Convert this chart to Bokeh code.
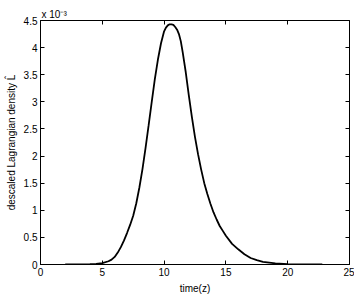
from bokeh.plotting import figure
from bokeh.models import Range1d, FixedTicker, LinearAxis, Title, CustomJSTickFormatter
from bokeh.embed import file_html
from bokeh.resources import INLINE

# time values and descaled Lagrangian density (in units of 1e-3)
time_z = [2.0, 3.0, 4.0, 4.5, 5.0, 5.5, 5.75, 6.0, 6.25, 6.5, 6.75, 7.0, 7.25, 7.5,
          7.75, 8.0, 8.25, 8.5, 8.75, 9.0, 9.25, 9.5, 9.75, 10.0, 10.15, 10.3,
          10.45, 10.6, 10.75, 10.9, 11.05, 11.2, 11.35, 11.5, 11.75, 12.0, 12.25,
          12.5, 12.75, 13.0, 13.25, 13.5, 13.75, 14.0, 14.25, 14.5, 14.75, 15.0,
          15.5, 16.0, 16.5, 17.0, 17.5, 18.0, 19.0, 20.0, 21.0, 22.0, 22.8]
density_e3 = [0.0, 0.0, 0.005, 0.012, 0.025, 0.06, 0.09, 0.14, 0.22, 0.32, 0.44,
              0.58, 0.73, 0.90, 1.13, 1.42, 1.76, 2.15, 2.57, 3.00, 3.42, 3.78,
              4.08, 4.30, 4.37, 4.41, 4.43, 4.43, 4.42, 4.38, 4.33, 4.25, 4.12,
              3.92, 3.55, 3.12, 2.72, 2.35, 2.03, 1.75, 1.50, 1.30, 1.12, 0.96,
              0.83, 0.71, 0.62, 0.53, 0.38, 0.28, 0.19, 0.12, 0.08, 0.05, 0.02,
              0.008, 0.003, 0.001, 0.0]

x_ticks = [0, 5, 10, 15, 20, 25]
y_ticks = [0, 0.5, 1, 1.5, 2, 2.5, 3, 3.5, 4, 4.5]
multiplier_text = "x 10\u207b\u00b3"

FONT = "Liberation Sans"

p = figure(output_backend="svg", toolbar_location=None,
           frame_width=309, frame_height=244,
           min_border_left=40, min_border_top=20, min_border_right=5, min_border_bottom=28,
           x_range=Range1d(0, 25), y_range=Range1d(0, 4.5),
           background_fill_color="white", border_fill_color="white")
p.outline_line_color = "black"
p.outline_line_width = 1
p.grid.visible = False

p.line(time_z, density_e3, line_color="black", line_width=1.8)

fmt = CustomJSTickFormatter(code="return String(Math.round(tick*10)/10);")
blank = CustomJSTickFormatter(code="return '';")

for ax in p.xaxis:
    ax.ticker = FixedTicker(ticks=x_ticks)
    ax.axis_label = "time(z)"
for ax in p.yaxis:
    ax.ticker = FixedTicker(ticks=y_ticks)
    ax.formatter = fmt
    ax.axis_label = "descaled Lagrangian density L\u0302"

for ax in p.xaxis + p.yaxis:
    ax.major_tick_in = 4
    ax.major_tick_out = 0
    ax.minor_tick_line_color = None
    ax.axis_line_color = "black"
    ax.major_tick_line_color = "black"
    ax.major_label_text_font = FONT
    ax.major_label_text_font_size = "10px"
    ax.major_label_text_color = "black"
    ax.axis_label_text_font = FONT
    ax.axis_label_text_font_size = "10px"
    ax.axis_label_text_font_style = "normal"
    ax.axis_label_text_color = "black"
    ax.major_label_standoff = 3
    ax.axis_label_standoff = 4

top = LinearAxis(ticker=FixedTicker(ticks=x_ticks), formatter=blank,
                 major_label_text_font_size="0px",
                 major_tick_in=4, major_tick_out=0, minor_tick_line_color=None,
                 axis_line_color=None, major_label_standoff=0)
right = LinearAxis(ticker=FixedTicker(ticks=y_ticks), formatter=blank,
                   major_label_text_font_size="0px",
                   major_tick_in=4, major_tick_out=0, minor_tick_line_color=None,
                   axis_line_color=None, major_label_standoff=0)
p.add_layout(top, "above")
p.add_layout(right, "right")

p.add_layout(Title(text=multiplier_text, align="left", text_font=FONT,
                   text_font_size="10px", text_font_style="normal",
                   text_color="black", standoff=2, offset=1), "above")

open("out.html", "w").write(file_html(p, INLINE))
